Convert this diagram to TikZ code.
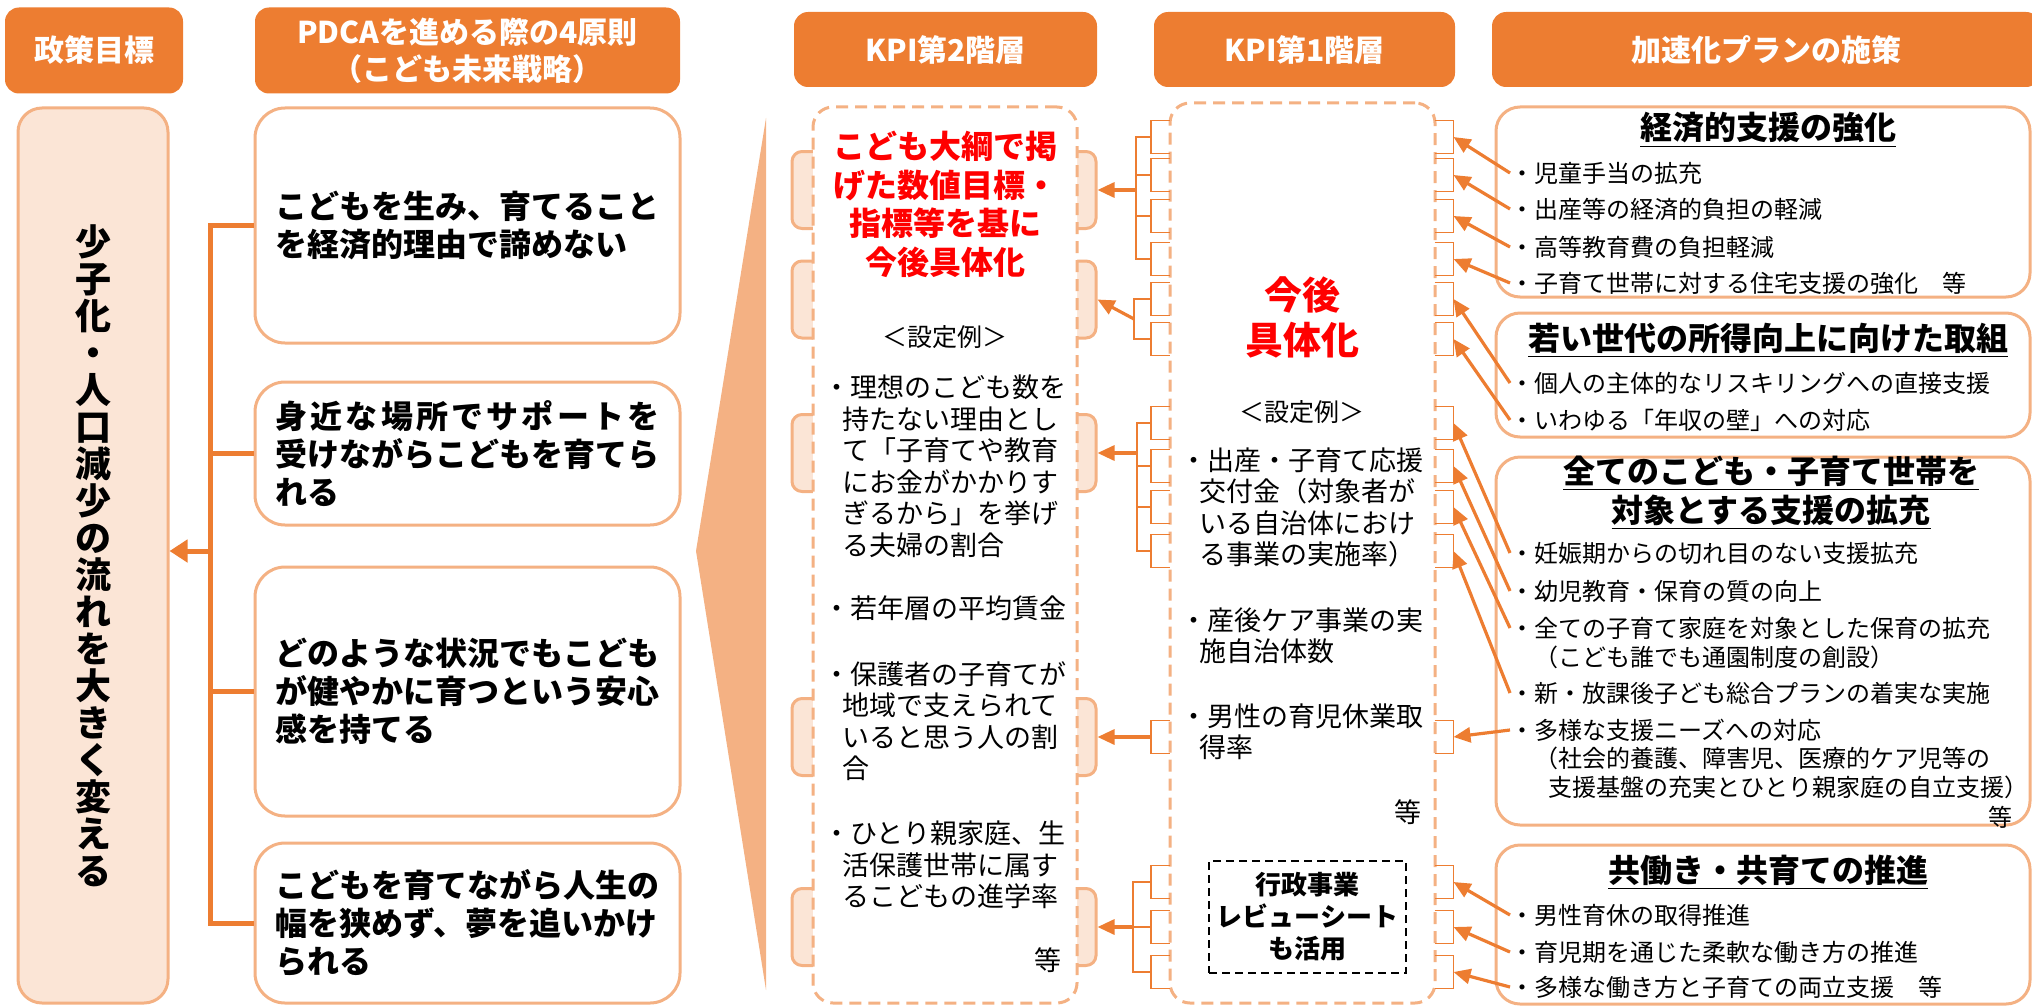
\documentclass[tikz,border=0pt]{standalone}
\usepackage{fontspec}
\setmainfont{Noto Sans CJK JP}
\usetikzlibrary{arrows.meta}
\definecolor{hdrorange}{HTML}{ED7D31}
\definecolor{lineorange}{HTML}{F4B183}
\definecolor{peach}{HTML}{FBE5D6}
\definecolor{kred}{HTML}{FF0000}
\begin{document}
\begin{tikzpicture}[x=0.5pt, y=-0.5pt,
        hdr/.style={fill=hdrorange, rounded corners=7pt, text=white, align=center, font=\bfseries\fontsize{15}{18.5}\selectfont},
        goalbox/.style={draw=lineorange, fill=peach, line width=1.5pt, rounded corners=12pt, align=center, font=\bfseries\fontsize{18}{18.5}\selectfont},
        pdbox/.style={draw=lineorange, fill=white, line width=1.5pt, rounded corners=15pt, align=left, minimum width=212.5pt, font=\bfseries\fontsize{16}{19}\selectfont},
        kpitab/.style={draw=lineorange, fill=peach, line width=1.5pt, rounded corners=5pt, minimum width=152pt, minimum height=38.5pt},
        kbox/.style={draw=lineorange, fill=white, line width=1.5pt, dash pattern=on 6pt off 3.5pt, rounded corners=10pt},
        revbox/.style={draw=black, line width=0.9pt, dash pattern=on 4pt off 2.5pt, align=center, font=\bfseries\fontsize{13}{16}\selectfont},
        rbox/.style={draw=lineorange, fill=white, line width=1.5pt, rounded corners=12pt, minimum width=267pt},
        brk/.style={minimum width=9.5pt, minimum height=16.5pt, inner sep=0pt, outer sep=0pt},
        brkline/.style={draw=hdrorange, line width=0.8pt},
        treeline/.style={draw=hdrorange, line width=2.5pt},
        arr/.style={draw=hdrorange, line width=1.6pt, -{Triangle[length=8.5pt, width=7.5pt]}},
        kred/.style={inner sep=0pt, align=center, text=kred},
        kitem/.style={anchor=west, inner sep=0pt, align=left, font=\fontsize{13.5}{15.75}\selectfont},
        kex/.style={inner sep=0pt, font=\fontsize{12.5}{15}\selectfont},
        pitem/.style={anchor=west, inner sep=0pt, font=\fontsize{12}{14.5}\selectfont},
        rtitle/.style={inner sep=0pt, align=center, font=\bfseries\fontsize{16}{19.5}\selectfont}]
            \useasboundingbox (0,0) rectangle (2032,1006);
            \clip (0,0) rectangle (2032,1006);

            \node (h1) [hdr, minimum width=89pt, minimum height=43pt] at (94,50.5) {政策目標};
            \node (h2) [hdr, minimum width=212.5pt, minimum height=43pt] at (467.5,50.5) {PDCAを進める際の4原則\\（こども未来戦略）};
            \node (h3) [hdr, minimum width=151.5pt, minimum height=37.5pt] at (945.5,49.5) {KPI第2階層};
            \node (h4) [hdr, minimum width=150.5pt, minimum height=37.5pt] at (1304.5,49.5) {KPI第1階層};
            \node (h5) [hdr, minimum width=274pt, minimum height=37.5pt] at (1766,49.5) {加速化プランの施策};

            \node (gl) [goalbox, minimum width=75pt, minimum height=447.5pt] at (93,555.5)
            {少\\子\\化\\・\\人\\口\\減\\少\\の\\流\\れ\\を\\大\\き\\く\\変\\え\\る};

            \node (pd1) [pdbox, minimum height=117.5pt] at (467.5,225.5)
            {こどもを生み、育てること\\を経済的理由で諦めない};
            \node (pd2) [pdbox, minimum height=71.5pt] at (467.5,453.5)
            {\makebox[12em][s]{身\hfill 近\hfill な\hfill 場\hfill 所\hfill で\hfill サ\hfill ポ\hfill ー\hfill ト\hfill を}\\受けながらこどもを育てら\\れる};
            \node (pd3) [pdbox, minimum height=124.5pt] at (467.5,691.5)
            {どのような状況でもこども\\が健やかに育つという安心\\感を持てる};
            \node (pd4) [pdbox, minimum height=80pt] at (467.5,923)
            {こどもを育てながら人生の\\幅を狭めず、夢を追いかけ\\られる};

            \coordinate (jn) at (210,551);
            \draw [treeline] (pd1.west) -| (jn) |- (pd4.west);
            \draw [treeline] (pd2.west) -- (pd2.west -| jn);
            \draw [treeline] (pd3.west) -- (pd3.west -| jn);
            \draw [treeline, -{Triangle[length=9pt, width=11pt]}] (jn) -- (jn -| gl.east);

            \fill [lineorange] (766,118) -- (766,990) -- (696,551) -- cycle;

            \node (tab1) [kpitab] at (944,190) {};
            \node (tab2) [kpitab] at (944,299.5) {};
            \node (tab3) [kpitab] at (944,453) {};
            \node (tab4) [kpitab] at (944,737) {};
            \node (tab5) [kpitab] at (944,927) {};
            \node (k2) [kbox, minimum width=132pt, minimum height=448pt] at (945,555) {};
            \node (k1) [kbox, minimum width=132.5pt, minimum height=450pt] at (1302.5,553) {};

            \node (k2t) [kred, font=\bfseries\fontsize{16}{19.25}\selectfont] at (945,204.5)
            {こども大綱で掲\\げた数値目標・\\指標等を基に\\今後具体化};
            \node (k2e) [kex] at (945,337) {＜設定例＞};
            \node (k2a) [kitem] at (823,466)
            {・理想のこども数を\\\hspace*{0.7em}持たない理由とし\\\hspace*{0.7em}て「子育てや教育\\\hspace*{0.7em}にお金がかかりす\\\hspace*{0.7em}ぎるから」を挙げ\\\hspace*{0.7em}る夫婦の割合};
            \node (k2b) [kitem] at (823,608) {・若年層の平均賃金};
            \node (k2c) [kitem] at (823,721)
            {・保護者の子育てが\\\hspace*{0.7em}地域で支えられて\\\hspace*{0.7em}いると思う人の割\\\hspace*{0.7em}合};
            \node (k2d) [kitem] at (823,865)
            {・ひとり親家庭、生\\\hspace*{0.7em}活保護世帯に属す\\\hspace*{0.7em}るこどもの進学率};
            \node (k2z) [kitem, anchor=east] at (1062,960) {等};

            \node (k1t) [kred, font=\bfseries\fontsize{19}{22.5}\selectfont] at (1302,317.5) {今後\\具体化};
            \node (k1e) [kex] at (1302,412) {＜設定例＞};
            \node (k1a) [kitem] at (1180,507.5)
            {・出産・子育て応援\\\hspace*{0.7em}交付金（対象者が\\\hspace*{0.7em}いる自治体におけ\\\hspace*{0.7em}る事業の実施率）};
            \node (k1b) [kitem] at (1180,636) {・産後ケア事業の実\\\hspace*{0.7em}施自治体数};
            \node (k1c) [kitem] at (1180,732) {・男性の育児休業取\\\hspace*{0.7em}得率};
            \node (k1z) [kitem, anchor=east] at (1422,812) {等};
            \node (rv) [revbox, minimum width=98.5pt, minimum height=56pt] at (1307.5,917) {行政事業\\レビューシート\\も活用};

            \node (rbx1) [rbox, minimum height=95pt] at (1763,202) {};
            \node (rbx2) [rbox, minimum height=62pt] at (1763,375) {};
            \node (rbx3) [rbox, minimum height=184pt] at (1763,641) {};
            \node (rbx4) [rbox, minimum height=79.5pt] at (1763,924.5) {};

            \node (ti1) [rtitle] at (1768,130) {\underline{経済的支援の強化}};
            \node (ti2) [rtitle] at (1768,340) {\underline{若い世代の所得向上に向けた取組}};
            \node (ti3) [rtitle] at (1771,492.5) {\underline{全てのこども・子育て世帯を}\\\underline{対象とする支援の拡充}};
            \node (ti4) [rtitle] at (1768,872) {\underline{共働き・共育ての推進}};

            \node (i1) [pitem] at (1510,173) {・児童手当の拡充};
            \node (i2) [pitem] at (1510,209) {・出産等の経済的負担の軽減};
            \node (i3) [pitem] at (1510,247) {・高等教育費の負担軽減};
            \node (i4) [pitem] at (1510,283) {・子育て世帯に対する住宅支援の強化　等};
            \node (i5) [pitem] at (1510,383) {・個人の主体的なリスキリングへの直接支援};
            \node (i6) [pitem] at (1510,420) {・いわゆる「年収の壁」への対応};
            \node (i7) [pitem] at (1510,553) {・妊娠期からの切れ目のない支援拡充};
            \node (i8) [pitem] at (1510,591) {・幼児教育・保育の質の向上};
            \node (i9) [pitem] at (1510,628) {・全ての子育て家庭を対象とした保育の拡充};
            \node (i9b) [pitem] at (1510,657) {\hspace*{1em}（こども誰でも通園制度の創設）};
            \node (i10) [pitem] at (1510,693) {・新・放課後子ども総合プランの着実な実施};
            \node (i11) [pitem] at (1510,730) {・多様な支援ニーズへの対応};
            \node (i11b) [pitem] at (1510,758) {\hspace*{1em}（社会的養護、障害児、医療的ケア児等の};
            \node (i11c) [pitem] at (1510,787) {\hspace*{1.6em}支援基盤の充実とひとり親家庭の自立支援）};
            \node (i11z) [pitem, anchor=east] at (2013,817) {等};
            \node (i12) [pitem] at (1510,915) {・男性育休の取得推進};
            \node (i13) [pitem] at (1510,952) {・育児期を通じた柔軟な働き方の推進};
            \node (i14) [pitem] at (1510,987) {・多様な働き方と子育ての両立支援　等};

            \foreach \n/\y in {1/137,2/175,3/216,4/259,5/299,6/339,7/423,8/466,9/507,10/551,11/737,12/882,13/927,14/972} {
                \node (lb\n) [brk] at (1160.5,\y) {};
                \node (rb\n) [brk] at (1444,\y) {};
                \draw [brkline] (lb\n.north east) -- (lb\n.north west) -- (lb\n.south west) -- (lb\n.south east);
                \draw [brkline] (rb\n.north west) -- (rb\n.north east) -- (rb\n.south east) -- (rb\n.south west);
            }

            \coordinate (t1) at (1136,190);
            \draw [brkline] (lb1.west) -| (t1) |- (lb4.west);
            \draw [brkline] (lb2.west) -- (lb2.west -| t1);
            \draw [brkline] (lb3.west) -- (lb3.west -| t1);
            \draw [arr] (t1) -- (tab1.east);

            \coordinate (t2) at (1134,319);
            \draw [brkline] (lb5.west) -| (t2) |- (lb6.west);
            \draw [arr] (t2) -- (tab2.east);

            \coordinate (t3) at (1137,453);
            \draw [brkline] (lb7.west) -| (t3) |- (lb10.west);
            \draw [brkline] (lb8.west) -- (lb8.west -| t3);
            \draw [brkline] (lb9.west) -- (lb9.west -| t3);
            \draw [arr] (t3) -- (tab3.east);

            \draw [arr] (lb11.west) -- (tab4.east);

            \coordinate (t5) at (1133,927);
            \draw [brkline] (lb12.west) -| (t5) |- (lb14.west);
            \draw [brkline] (lb13.west) -- (t5);
            \draw [arr] (t5) -- (tab5.east);

            \foreach \n in {1,...,14} {
                \draw [arr] (i\n.west) -- (rb\n.east);
            }
\end{tikzpicture}
\end{document}
